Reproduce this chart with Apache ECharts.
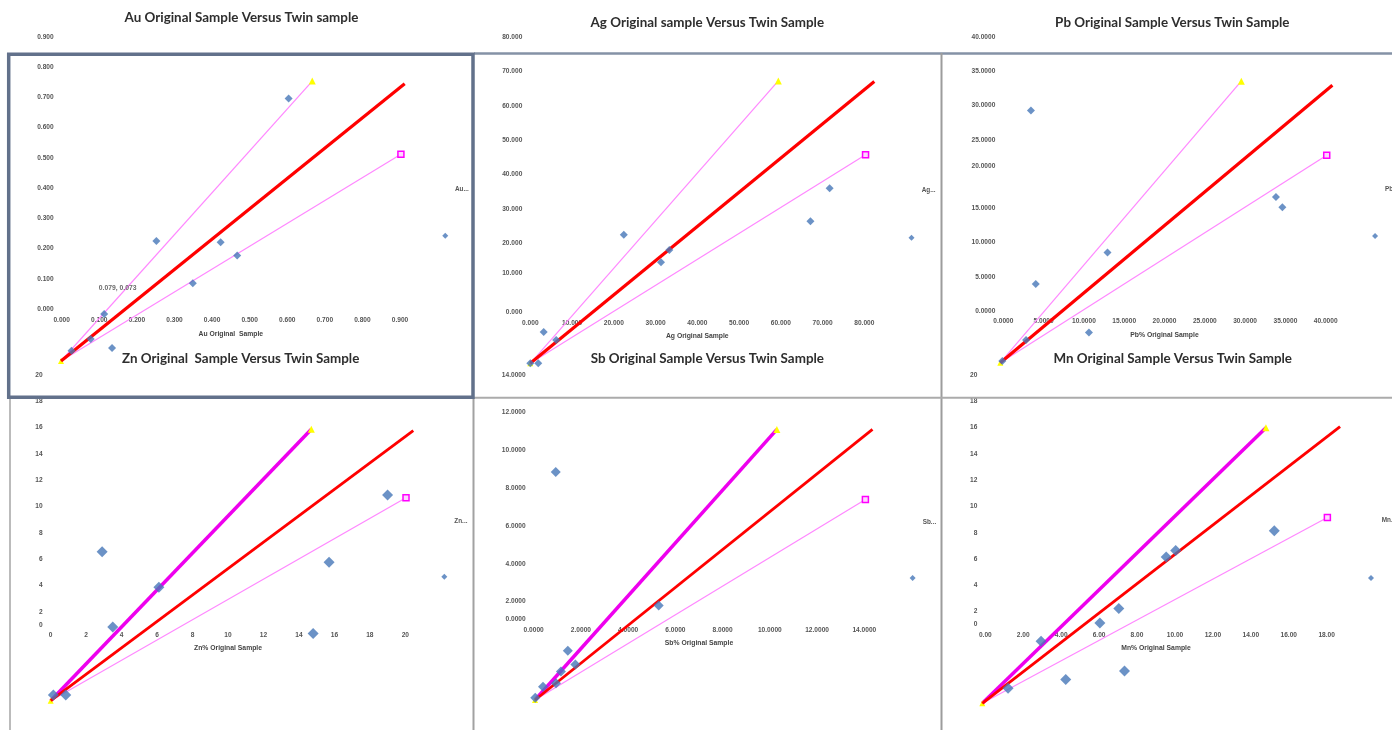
<!DOCTYPE html>
<html><head><meta charset="utf-8">
<script src="https://cdn.jsdelivr.net/npm/echarts@6/dist/echarts.min.js"></script>
<style>html,body{margin:0;padding:0;background:#fff}#c{width:1392px;height:730px}</style>
</head><body><div id="c"></div>
<script>
// ---------- Tick labels ----------
const auXTicks = ['0.000','0.100','0.200','0.300','0.400','0.500','0.600','0.700','0.800','0.900'];
const auYTicks = ['0.000','0.100','0.200','0.300','0.400','0.500','0.600','0.700','0.800','0.900'];
const agXTicks = ['0.000','10.000','20.000','30.000','40.000','50.000','60.000','70.000','80.000'];
const agYTicks = ['0.000','10.000','20.000','30.000','40.000','50.000','60.000','70.000','80.000'];
const pbXTicks = ['0.0000','5.0000','10.0000','15.0000','20.0000','25.0000','30.0000','35.0000','40.0000'];
const pbYTicks = ['0.0000','5.0000','10.0000','15.0000','20.0000','25.0000','30.0000','35.0000','40.0000'];
const znXTicks = ['0','2','4','6','8','10','12','14','16','18','20'];
const znYTicks = ['0','2','4','6','8','10','12','14','16','18','20'];
const sbXTicks = ['0.0000','2.0000','4.0000','6.0000','8.0000','10.0000','12.0000','14.0000'];
const sbYTicks = ['0.0000','2.0000','4.0000','6.0000','8.0000','10.0000','12.0000','14.0000'];
const mnXTicks = ['0.00','2.00','4.00','6.00','8.00','10.00','12.00','14.00','16.00','18.00'];
const mnYTicks = ['0','2','4','6','8','10','12','14','16','18','20'];

// ---------- Data (original vs twin) ----------
const auOriginal = [0.606, 0.254, 0.425, 0.469, 0.351, 0.115, 0.079, 0.028, 0.136];
const auTwin     = [0.866, 0.396, 0.392, 0.348, 0.257, 0.155, 0.073, 0.034, 0.043];
const auLegendMark = [1.023, 0.413];
const auRedEnd = [0.915, 0.915];
const auUpperEnd = [0.669, 0.924];
const auLowerEnd = [0.905, 0.682];

const agOriginal = [22.4, 33.3, 31.3, 67.1, 71.7, 3.2, 6.2, 0.0, 1.9];
const agTwin     = [37.4, 32.9, 29.4, 41.3, 50.9, 9.1, 6.8, 0.0, 0.0];
const agLegendMark = [91.3, 36.5];
const agRedEnd = [82.4, 81.9];
const agUpperEnd = [59.4, 82.1];
const agLowerEnd = [80.3, 60.6];

const pbOriginal = [3.8, 4.4, 13.3, 34.2, 35.0, 11.0, 3.2, 0.25];
const pbTwin     = [36.8, 11.5, 16.1, 24.2, 22.7, 4.4, 3.3, 0.25];
const pbLegendMark = [46.5, 18.5];
const pbRedEnd = [41.2, 40.5];
const pbUpperEnd = [29.9, 41.1];
const pbLowerEnd = [40.5, 30.3];

const znOriginal = [2.9, 6.1, 3.5, 14.8, 15.7, 19.0, 0.15, 0.85];
const znTwin     = [11.3, 8.6, 5.6, 5.1, 10.5, 15.6, 0.43, 0.43];
const znLegendMark = [22.2, 9.4];
const znRedEnd = [20.45, 20.5];
const znUpperEnd = [14.7, 20.6];
const znLowerEnd = [20.04, 15.4];

const sbOriginal = [0.88, 5.24, 1.39, 1.71, 1.10, 0.89, 0.34, 0.01];
const sbTwin     = [12.05, 5.0, 2.6, 1.87, 1.5, 0.88, 0.70, 0.12];
const sbLegendMark = [16.0, 6.45];
const sbRedEnd = [14.3, 14.3];
const sbUpperEnd = [10.25, 14.3];
const sbLowerEnd = [14.0, 10.6];

const mnOriginal = [15.4, 10.2, 9.7, 7.2, 6.2, 3.1, 7.5, 4.4, 1.36];
const mnTwin     = [13.1, 11.6, 11.1, 7.2, 6.1, 4.7, 2.45, 1.8, 1.14];
const mnLegendMark = [20.5, 9.5];
const mnRedEnd = [18.87, 21.0];
const mnUpperEnd = [14.96, 20.9];
const mnLowerEnd = [18.2, 14.1];

// ---------- Texts ----------
const titles = ['Au Original Sample Versus Twin sample','Ag Original sample Versus Twin Sample','Pb Original Sample Versus Twin Sample',
                'Zn Original  Sample Versus Twin Sample','Sb Original Sample Versus Twin Sample','Mn Original Sample Versus Twin Sample'];
const xNames = ['Au Original  Sample','Ag Original Sample','Pb% Original Sample','Zn% Original Sample','Sb% Original Sample','Mn% Original Sample'];
const legendNames = ['Au...','Ag...','Pb...','Zn...','Sb...','Mn...'];

// ---------- Panel assembly (layout / style only) ----------
const panels = [
  {xt:auXTicks, yt:auYTicks, ox:61, oy:361, sx:375.6, sy:303, xmax:1.1, ymax:1.0, xl:[61.7,400], yl:[309,36.7], xLabelY:320.3, nameY:334, title:[241.5,18], legend:[455,189], thick:false, yShift:{}, orig:auOriginal, twin:auTwin, lm:auLegendMark, red:auRedEnd, up:auUpperEnd, lo:auLowerEnd, ps:8, labelIdx:6, dec:3},
  {xt:agXTicks, yt:agYTicks, ox:530.3, oy:363.3, sx:4.175, sy:3.44, xmax:95, ymax:90, xl:[530.3,864.3], yl:[312.3,37], xLabelY:322.7, nameY:336.3, title:[707.3,22.3], legend:[921.7,190.7], thick:false, yShift:{'10.000':4.6}, orig:agOriginal, twin:agTwin, lm:agLegendMark, red:agRedEnd, up:agUpperEnd, lo:agLowerEnd, ps:8},
  {xt:pbXTicks, yt:pbYTicks, ox:1000.3, oy:362.7, sx:8.06, sy:6.85, xmax:48, ymax:45, xl:[1003.3,1325.7], yl:[311,37], xLabelY:321.3, nameY:335, title:[1172.3,22.3], legend:[1385,189], thick:false, yShift:{'20.0000':8}, orig:pbOriginal, twin:pbTwin, lm:pbLegendMark, red:pbRedEnd, up:pbUpperEnd, lo:pbLowerEnd, ps:8},
  {xt:znXTicks, yt:znYTicks, ox:50.7, oy:700.7, sx:17.73, sy:13.18, xmax:23, ymax:22, xl:[50.7,405.3], yl:[638.4,374.7], xLabelY:634.7, nameY:648.3, title:[240.7,359], legend:[454.3,521.3], thick:true, yShift:{'0':13.4}, orig:znOriginal, twin:znTwin, lm:znLegendMark, red:znRedEnd, up:znUpperEnd, lo:znLowerEnd, ps:11},
  {xt:sbXTicks, yt:sbYTicks, ox:535, oy:700, sx:23.6, sy:18.92, xmax:17, ymax:15, xl:[533.7,864.3], yl:[639.5,374.7], xLabelY:630, nameY:643.7, title:[707.3,359], legend:[922.7,522], thick:true, yShift:{'0.0000':20}, orig:sbOriginal, twin:sbTwin, lm:sbLegendMark, red:sbRedEnd, up:sbUpperEnd, lo:sbLowerEnd, ps:10},
  {xt:mnXTicks, yt:mnYTicks, ox:982.3, oy:703.3, sx:18.96, sy:13.18, xmax:21.5, ymax:22, xl:[985.3,1326.7], yl:[638,374.7], xLabelY:634.7, nameY:648.3, title:[1172.7,359], legend:[1381.7,520.7], thick:true, yShift:{'0':13.4}, orig:mnOriginal, twin:mnTwin, lm:mnLegendMark, red:mnRedEnd, up:mnUpperEnd, lo:mnLowerEnd, ps:11}
];

const TICK_COLOR = '#555', TICK_FONT = 'Liberation Sans', TICK_SIZE = 6.6;
const grids = [], xAxes = [], yAxes = [], series = [], graphics = [];

function tickFormatter(ticks) {
  return v => { for (const t of ticks) if (Math.abs(parseFloat(t) - v) < 1e-6) return t; return ''; };
}

panels.forEach((p, i) => {
  const gL = grids.length;
  const xMaxT = parseFloat(p.xt[p.xt.length-1]), xStep = parseFloat(p.xt[1]);
  const yMaxT = parseFloat(p.yt[p.yt.length-1]), yStep = parseFloat(p.yt[1]);
  // label grid
  grids.push({left:p.xl[0], top:p.yl[1], width:p.xl[1]-p.xl[0], height:p.yl[0]-p.yl[1]});
  const axisLineY = p.xLabelY - 7.3;
  const fx = tickFormatter(p.xt), fy = tickFormatter(p.yt);
  const shiftKey = Object.keys(p.yShift)[0];
  xAxes.push({type:'value', gridIndex:gL, min:0, max:xMaxT, interval:xStep, offset: axisLineY - p.yl[0],
    axisLine:{show:false}, axisTick:{show:false}, splitLine:{show:false},
    axisLabel:{fontSize:TICK_SIZE, color:TICK_COLOR, fontFamily:TICK_FONT, fontWeight:'bold', margin:4, formatter:fx},
    name:xNames[i], nameLocation:'middle', nameGap: p.nameY - axisLineY - 3.6,
    nameTextStyle:{fontSize:6.8, fontWeight:'bold', color:'#444', fontFamily:TICK_FONT}});
  const yRich = {};
  if (shiftKey) yRich.up = {fontSize:TICK_SIZE, color:TICK_COLOR, fontFamily:TICK_FONT, fontWeight:'bold', padding:[0,0,2*p.yShift[shiftKey],0]};
  yAxes.push({type:'value', gridIndex:gL, min:0, max:yMaxT, interval:yStep,
    axisLine:{show:false}, axisTick:{show:false}, splitLine:{show:false},
    axisLabel:{fontSize:TICK_SIZE, color:TICK_COLOR, fontFamily:TICK_FONT, fontWeight:'bold', margin:8,
      formatter: v => { const s = fy(v); return (s === shiftKey) ? '{up|' + s + '}' : s; }, rich:yRich}});
  // data grid
  const gD = grids.length;
  grids.push({left:p.ox, top:p.oy - p.sy*p.ymax, width:p.sx*p.xmax, height:p.sy*p.ymax});
  xAxes.push({type:'value', gridIndex:gD, min:0, max:p.xmax, show:false});
  yAxes.push({type:'value', gridIndex:gD, min:0, max:p.ymax, show:false});
  const ax = {xAxisIndex:gD, yAxisIndex:gD};

  series.push(Object.assign({type:'line', silent:true, animation:false, clip:false, z:2,
    lineStyle:{color:'#ff88ff', width:1.2},
    data:[{value:[0,0], symbol:'none'},
          {value:p.lo, symbol:'rect', symbolSize:6, itemStyle:{color:'#ffd6ff', borderColor:'#ff00ff', borderWidth:1.5}}]}, ax));
  series.push(Object.assign({type:'line', silent:true, animation:false, clip:false, z:3,
    lineStyle:{color: p.thick ? '#ee00ee' : '#ff88ff', width: p.thick ? 3.5 : 1.2},
    data:[{value:[0,0], symbol:'triangle', symbolSize:6, itemStyle:{color:'#ffff00', borderWidth:0}},
          {value:p.up, symbol:'triangle', symbolSize:7, itemStyle:{color:'#ffff00', borderWidth:0}}]}, ax));
  series.push(Object.assign({type:'line', silent:true, animation:false, clip:false, z:4, symbol:'none',
    lineStyle:{color:'#ff0000', width: p.thick ? 2.8 : 3.2},
    data:[[0,0], p.red]}, ax));
  const pts = p.orig.map((x, k) => {
    const d = {value:[x, p.twin[k]]};
    if (k === p.labelIdx) d.label = {show:true, position:'top', offset:[27,-38], fontSize:6.8, fontWeight:'bold', color:'#444', fontFamily:TICK_FONT,
      formatter: q => q.value[0].toFixed(p.dec) + ', ' + q.value[1].toFixed(p.dec)};
    return d;
  });
  series.push(Object.assign({type:'scatter', silent:true, animation:false, clip:false, z:5, symbol:'diamond', symbolSize:p.ps,
    itemStyle:{color:'#4677b8'}, data:pts}, ax));
  series.push(Object.assign({type:'scatter', silent:true, animation:false, clip:false, z:5, symbol:'diamond', symbolSize:6,
    itemStyle:{color:'#4677b8'}, data:[p.lm]}, ax));

  graphics.push({type:'text', x:p.title[0], y:p.title[1], z:50,
    style:{text:titles[i], font:'bold 13.4px Lato', fill:'#2e2e2e', align:'center', verticalAlign:'middle', textAlign:'center', textVerticalAlign:'middle'}});
  graphics.push({type:'text', x:p.legend[0], y:p.legend[1], z:50,
    style:{text:legendNames[i], font:'bold 6.4px "Liberation Sans"', fill:'#555', align:'left', verticalAlign:'middle', textAlign:'left', textVerticalAlign:'middle'}});
});

// frames
graphics.push({type:'rect', z:100, shape:{x:8.7, y:54.3, width:464.3, height:343}, style:{fill:'none', stroke:'#62718b', lineWidth:3.5}});
graphics.push({type:'line', z:99, shape:{x1:474, y1:53.5, x2:1392, y2:53.5}, style:{stroke:'#8592a6', lineWidth:2.5}});
graphics.push({type:'line', z:99, shape:{x1:941.5, y1:53, x2:941.5, y2:730}, style:{stroke:'#9c9c9c', lineWidth:2}});
graphics.push({type:'line', z:99, shape:{x1:473.5, y1:397, x2:473.5, y2:730}, style:{stroke:'#a2a2a2', lineWidth:2}});
graphics.push({type:'line', z:99, shape:{x1:473, y1:397.8, x2:1392, y2:397.8}, style:{stroke:'#ababab', lineWidth:2}});
graphics.push({type:'line', z:99, shape:{x1:10, y1:397, x2:10, y2:730}, style:{stroke:'#a4a4a4', lineWidth:1.5}});

const chart = echarts.init(document.getElementById('c'), null, {renderer:'canvas'});
chart.setOption({backgroundColor:'#ffffff', animation:false, grid:grids, xAxis:xAxes, yAxis:yAxes, series:series, graphic:{elements:graphics}});
</script></body></html>
